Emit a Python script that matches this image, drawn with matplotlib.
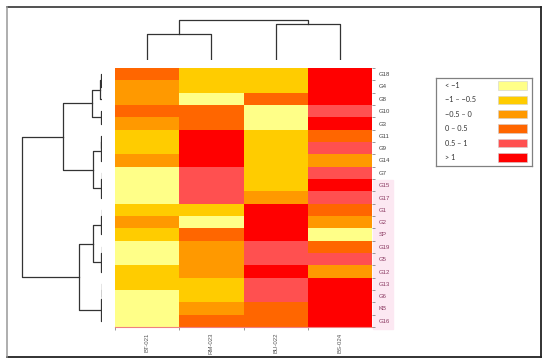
import numpy as np
import matplotlib
matplotlib.use("Agg")
import matplotlib.pyplot as plt
from matplotlib.colors import ListedColormap, BoundaryNorm
from matplotlib.patches import Rectangle
from matplotlib.lines import Line2D

# rows (top to bottom) and columns of the heatmap
genes = ["G18", "G4", "G8", "G10", "G3", "G11", "G9", "G14", "G7", "G15", "G17",
         "G1", "G2", "SP", "G19", "G5", "G12", "G13", "G6", "KB", "G16"]
samples = ["BT-021", "RM-023", "BU-022", "BS-024"]

# values per sample
bt021 = [0.25, -0.25, -0.25, 0.25, -0.25, -0.75, -0.75, -0.25, -1.5, -1.5, -1.5,
         -0.75, -0.25, -0.75, -1.5, -1.5, -0.75, -0.75, -1.5, -1.5, -1.5]
rm023 = [-0.75, -0.75, -1.5, 0.25, 0.25, 1.5, 1.5, 1.5, 0.75, 0.75, 0.75,
         -0.75, -1.5, 0.25, -0.25, -0.25, -0.25, -0.75, -0.75, -0.25, 0.25]
bu022 = [-0.75, -0.75, 0.25, -1.5, -1.5, -0.75, -0.75, -0.75, -0.75, -0.75, -0.25,
         1.5, 1.5, 1.5, 0.75, 0.75, 1.5, 0.75, 0.75, 0.25, 0.25]
bs024 = [1.5, 1.5, 1.5, 0.75, 1.5, 0.25, 0.75, -0.25, 0.75, 1.5, 0.75,
         0.25, -0.25, -1.5, 0.25, 0.75, -0.25, 1.5, 1.5, 1.5, 1.5]

# colour classes
legend_labels = ["< \u22121", "\u22121 \u2013 \u22120.5", "\u22120.5 \u2013 0",
                 "0 \u2013 0.5", "0.5 \u2013 1", "> 1"]
level_colors = ["#FFFF88", "#FFCC00", "#FF9900", "#FF6600", "#FF5050", "#FF0000"]
bounds = [-3, -1, -0.5, 0, 0.5, 1, 3]

# dendrograms: (height, left, right), heights in pixel-ish units
row_tree = (80,
            (39,
             (10, (2, (1, "G18", "G4"), "G8"), (1, "G10", "G3")),
             (8.7, (1.5, (1, "G11", "G9"), "G14"), (1, (0.5, "G7", "G15"), "G17"))),
            (22.7,
             (8.7, (1, (0.5, "G1", "G2"), "SP"), (1.3, (0.5, "G19", "G5"), "G12")),
             (1.3, (0.5, (0.3, "G13", "G6"), "KB"), "G16")))
col_tree = (40, (26, "BT-021", "RM-023"), (36.5, "BU-022", "BS-024"))

W, H = 550, 363
fig = plt.figure(figsize=(5.5, 3.63), dpi=100)
fig.patch.set_facecolor("white")


def fx(px):
    return px / W


def fy(py):
    return 1 - py / H


# outer frame
fig.add_artist(Line2D([fx(7), fx(541)], [fy(6.5), fy(6.5)], color="#222222", lw=1.1))
fig.add_artist(Line2D([fx(541), fx(541)], [fy(6.5), fy(357)], color="#222222", lw=1.3))
fig.add_artist(Line2D([fx(7), fx(541)], [fy(357), fy(357)], color="#222222", lw=1.3))
fig.add_artist(Line2D([fx(7.3), fx(7.3)], [fy(6.5), fy(357)], color="#999999", lw=1.1))

# heatmap
data = np.array([bt021, rm023, bu022, bs024]).T
cmap = ListedColormap(level_colors)
norm = BoundaryNorm(bounds, cmap.N)

ax = fig.add_axes([fx(115), fy(327), fx(372) - fx(115), fy(68) - fy(327)])
ax.pcolormesh(np.arange(len(samples) + 1), np.arange(len(genes) + 1), data,
              cmap=cmap, norm=norm)
ax.set_xlim(0, len(samples))
ax.set_ylim(len(genes), 0)
for s in ["top", "left", "right"]:
    ax.spines[s].set_visible(False)
ax.spines["bottom"].set_color("#f08080")
ax.spines["bottom"].set_linewidth(0.8)

ax.set_xticks(np.arange(len(samples)))
ax.set_xticklabels([])
ax.set_xticks(np.arange(len(samples)) + 0.5, minor=True)
ax.set_xticklabels(samples, minor=True, rotation=90, fontsize=4.3, color="#555555",
                   family="Liberation Sans")
ax.tick_params(axis="x", which="major", length=2.5, color="#888888", width=0.6)
ax.tick_params(axis="x", which="minor", length=0, pad=4)

ax.yaxis.tick_right()
ax.set_yticks(np.arange(len(genes) + 1))
ax.set_yticklabels([])
ax.set_yticks(np.arange(len(genes)) + 0.5, minor=True)
ax.set_yticklabels(genes, minor=True, fontsize=4.3, family="Liberation Sans")
ax.tick_params(axis="y", which="major", length=2, color="#888888", width=0.6)
ax.tick_params(axis="y", which="minor", length=0, pad=5)
pink_from = genes.index("G15")
for i, lab in enumerate(ax.get_yticklabels(minor=True)):
    lab.set_color("#8B3A62" if i >= pink_from else "#444444")

# faint pink band behind the lower labels
fig.add_artist(Rectangle((fx(373), fy(329)), fx(393) - fx(373), fy(180) - fy(329),
                         transform=fig.transFigure, color="#FCE8F2", zorder=-1))


def draw_tree(a, node, pos, side):
    if isinstance(node, str):
        return pos[node], 0
    h, left, right = node
    pa, ha = draw_tree(a, left, pos, side)
    pb, hb = draw_tree(a, right, pos, side)
    if side == "top":
        a.plot([pa, pa, pb, pb], [ha, h, h, hb], color="#333333", lw=0.9)
    else:
        a.plot([ha, h, h, hb], [pa, pa, pb, pb], color="#333333", lw=0.9)
    return (pa + pb) / 2, h


# column dendrogram
axc = fig.add_axes([fx(115), fy(60), fx(372) - fx(115), fy(10) - fy(60)])
draw_tree(axc, col_tree, {s: i + 0.5 for i, s in enumerate(samples)}, "top")
axc.set_xlim(0, len(samples))
axc.set_ylim(0, 50)
axc.axis("off")

# row dendrogram
axr = fig.add_axes([fx(10), fy(327), fx(102) - fx(10), fy(68) - fy(327)])
draw_tree(axr, row_tree, {g: i + 0.5 for i, g in enumerate(genes)}, "left")
axr.set_xlim(92, 0)
axr.set_ylim(len(genes), 0)
axr.axis("off")

# legend box
axl = fig.add_axes([fx(436), fy(166), fx(532) - fx(436), fy(78) - fy(166)])
axl.set_xlim(436, 532)
axl.set_ylim(166, 78)
axl.set_xticks([])
axl.set_yticks([])
for s in axl.spines.values():
    s.set_color("#808080")
    s.set_linewidth(0.9)
for i, (lab, col) in enumerate(zip(legend_labels, level_colors)):
    yc = 85.5 + 14.4 * i
    axl.text(445, yc, lab, fontsize=5.3, va="center", ha="left", color="#333333",
             family=["Lato", "DejaVu Sans"])
    axl.add_patch(Rectangle((498, yc - 4.2), 28.5, 8.4, facecolor=col,
                            edgecolor="#d0d0d0", lw=0.4))

fig.savefig("out.png", dpi=100)
